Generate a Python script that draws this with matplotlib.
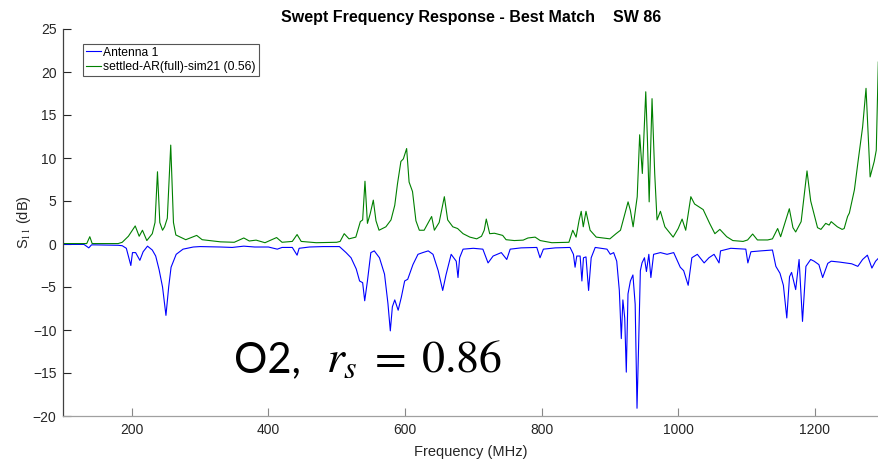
import matplotlib
matplotlib.use("Agg")
import matplotlib.pyplot as plt

# ---- data ----
freq_ant = [100, 130, 137, 141, 145, 180, 186, 192, 198.6, 201, 205.6, 211.8, 216.6, 223, 230, 235, 240, 245, 250, 254, 257.5,
            265, 275, 290, 300, 330, 347, 364, 380, 400, 413, 420, 435, 442, 445, 460, 480, 504, 513.7, 521, 528.6, 533.5,
            538, 541, 545, 550, 555, 562.6, 570, 575, 578.5, 581.5, 585, 590, 594.6, 599.5, 604, 611.6, 619, 626, 634,
            641, 648.6, 655.2, 660, 667.6, 675, 677.6, 680, 685, 700, 714, 721.6, 729, 741, 749, 754, 770, 793, 797.7,
            802.6, 820, 841.7, 846.6, 849, 851.5, 856.4, 859, 861.3, 865, 868.8, 872.6, 878.5, 895.7, 900.6, 905.5, 910,
            913.8, 916.7, 919, 921.7, 924, 926.5, 930, 933.7, 937, 939.7, 942, 944.6, 947, 950.6, 953.5, 957, 960, 964,
            974, 983.7, 993.4, 1003, 1008, 1014.6, 1020, 1028, 1038, 1045, 1052.5, 1059.8, 1062, 1077, 1099, 1102,
            1106.5, 1121, 1138, 1143, 1149, 1154, 1159, 1163, 1166, 1172, 1177, 1182, 1187, 1194, 1199, 1206, 1211.5,
            1219, 1224, 1236, 1245, 1254, 1263, 1270, 1277, 1283.6, 1289, 1295]
s11_ant = [-0.05, -0.05, -0.45, -0.1, -0.1, -0.15, -0.2, -0.5, -2.5, -1.0, -1.0, -1.9, -0.9, -0.25, -0.7, -1.4, -3.0, -5.0, -8.3, -5.0, -2.7,
           -1.2, -0.6, -0.35, -0.3, -0.35, -0.4, -0.25, -0.35, -0.35, -0.6, -0.4, -0.4, -1.3, -0.5, -0.35, -0.3, -0.3, -1.0, -1.6, -2.9, -4.3,
           -4.5, -6.6, -4.3, -1.0, -0.8, -1.6, -3.5, -6.9, -10.1, -7.3, -6.5, -7.7, -6.2, -4.3, -4.1, -2.4, -1.2, -1.0, -0.8,
           -1.2, -3.1, -5.4, -3.6, -1.2, -2.0, -3.9, -1.6, -0.6, -0.5, -0.6, -2.2, -1.4, -1.0, -1.8, -0.6, -0.45, -0.4, -1.6,
           -0.6, -0.45, -0.4, -1.2, -2.7, -1.4, -1.4, -4.3, -1.6, -1.5, -5.4, -1.6, -0.4, -0.6, -1.2, -1.0, -2.0,
           -5.4, -11.0, -6.5, -8.6, -14.9, -5.8, -4.3, -3.6, -7.0, -19.1, -11.9, -3.1, -2.2, -1.6, -3.2, -1.2, -3.9, -1.2,
           -1.0, -1.2, -1.0, -2.7, -3.1, -4.8, -1.6, -1.2, -2.2, -1.6, -1.2, -2.2, -0.8, -0.5, -0.6, -2.2,
           -0.9, -0.8, -0.7, -2.6, -3.4, -4.8, -8.6, -3.8, -3.3, -5.3, -1.8, -9.0, -2.6, -1.8, -2.0, -2.4, -3.9,
           -2.25, -2.0, -2.1, -2.2, -2.3, -2.6, -1.8, -1.3, -2.8, -2.0, -1.5]

freq_sim = [100, 134, 138.5, 142, 180, 186, 195, 205, 210.8, 215.6, 222, 230, 234, 237.6, 241, 245, 248, 252, 257, 261, 264.5,
            279, 295, 303, 330, 350, 364, 372, 382, 395, 412, 420, 435, 442, 448, 470, 500, 505, 511, 518, 528, 534.6, 538,
            541.4, 545, 549, 553.6, 557.5, 562, 572, 579.5, 585, 589, 594, 597.6, 602.4, 606, 611, 616, 621, 628, 635.5,
            639, 643, 650, 657.6, 662.5, 670, 677, 685, 695, 705, 712, 716, 719, 724, 731, 743, 748, 760, 773, 780, 790.5,
            798, 815, 840, 845.6, 850.5, 855, 858, 861, 865, 871, 880, 900, 909, 915.5, 921.8, 926.6, 930, 934, 940, 943.6,
            947.5, 952.5, 955, 957.5, 961.7, 965.6, 969, 974, 980.5, 992.6, 1000, 1005.7, 1011, 1018.5, 1024, 1036.6,
            1046, 1053.7, 1061, 1071, 1080, 1095, 1101.6, 1109, 1116, 1131, 1138, 1145.6, 1150, 1162.7, 1168, 1172,
            1180, 1188.6, 1194, 1204, 1209, 1216, 1221, 1224, 1233, 1240, 1243, 1248, 1250.6, 1258, 1263, 1270, 1275,
            1281, 1287, 1290, 1293, 1295]
s11_sim = [0.05, 0.05, 0.85, 0.05, 0.05, 0.2, 0.9, 2.1, 0.9, 1.6, 0.4, 1.2, 2.5, 8.4, 2.5, 1.6, 2.0, 3.0, 11.5, 2.5, 1.05,
           0.5, 1.0, 0.5, 0.25, 0.2, 0.7, 0.35, 0.45, 0.15, 0.75, 0.2, 0.3, 1.1, 0.3, 0.15, 0.2, 0.3, 1.2, 0.6, 0.8, 2.6, 2.8,
           7.3, 2.4, 3.5, 5.1, 2.7, 1.6, 2.0, 2.8, 4.5, 7.0, 9.6, 9.9, 11.1, 7.2, 6.1, 2.7, 1.6, 1.6, 2.7,
           3.2, 1.6, 2.5, 5.5, 2.8, 2.0, 1.8, 1.2, 0.8, 0.6, 0.9, 1.6, 2.9, 1.2, 1.25, 1.0, 0.5, 0.4, 0.45, 0.7, 0.8,
           0.4, 0.15, 0.2, 1.6, 0.8, 2.8, 3.8, 2.0, 3.8, 1.6, 0.8, 0.6, 1.2, 1.6, 3.5, 4.9, 3.9, 2.0, 5.5, 12.7,
           8.2, 17.7, 12.0, 4.9, 16.9, 8.2, 2.8, 3.8, 2.0, 0.8, 1.8, 2.9, 1.6, 5.5, 4.65, 4.0,
           2.4, 1.2, 1.7, 0.85, 0.4, 0.3, 0.47, 1.16, 0.47, 0.47, 0.6, 1.8, 0.85, 4.1, 1.9, 1.4,
           2.6, 8.5, 5.0, 1.9, 1.7, 2.4, 2.2, 2.6, 2.0, 1.7, 1.8, 3.2, 3.6, 6.3, 9.4, 13.6, 18.1,
           7.8, 9.6, 10.9, 21.2, 21.0]

labels = ["Antenna 1", "settled-AR(full)-sim21 (0.56)"]
title = "Swept Frequency Response - Best Match    SW 86"
xticks = [200, 400, 600, 800, 1000, 1200]
yticks = [-20, -15, -10, -5, 0, 5, 10, 15, 20, 25]

plt.rcParams['font.family'] = ['Liberation Sans', 'DejaVu Sans']
plt.rcParams['mathtext.fontset'] = 'stix'

fig = plt.figure(figsize=(8.79, 4.59), dpi=100)
ax = fig.add_axes([63.5/879, 43/459, 1 - 63.5/879, 387/459])

ax.plot(freq_ant, s11_ant, color='#0000ff', lw=0.8, label=labels[0])
ax.plot(freq_sim, s11_sim, color='#008000', lw=0.8, label=labels[1])

ax.set_xlim(100, 1294)
ax.set_ylim(-20, 25)
ax.set_xticks(xticks)
ax.set_yticks(yticks)
ax.tick_params(direction='in', length=5.5, width=0.8, labelsize=10, colors='#262626', pad=5)
ax.tick_params(axis='x', color='#888888')
for s in ['top', 'right']:
    ax.spines[s].set_visible(False)
ax.spines['left'].set_color('#404040')
ax.spines['bottom'].set_color('#a0a0a0')
ax.spines['left'].set_linewidth(0.9)
ax.spines['bottom'].set_linewidth(0.9)

ax.set_title(title, fontsize=11.5, fontweight='bold', pad=5)
ax.set_xlabel("Frequency (MHz)", fontsize=10.5, color='#262626', labelpad=6)
ax.set_ylabel("S$_{11}$ (dB)", fontsize=10.5, color='#262626')
ax.yaxis.set_label_coords(-(63.5 - 33) / 815.5, 0.5)

leg = ax.legend(loc='upper left', bbox_to_anchor=(0.024, 0.962), fontsize=8.7,
                handlelength=1.2, handletextpad=0.2, borderpad=0.25, labelspacing=0.2,
                fancybox=False, framealpha=1, edgecolor='#555555', borderaxespad=0)
leg.get_frame().set_linewidth(0.8)

fig.text(234/879, (459-372)/459, "O2,", fontsize=30, family=['Lato', 'DejaVu Sans'],
         ha='left', va='baseline', color='black')
fig.text(326/879, (459-372)/459, r"$r_s\;=\;0.86$", fontsize=33,
         ha='left', va='baseline', color='black')

fig.savefig("out.png", dpi=100)
